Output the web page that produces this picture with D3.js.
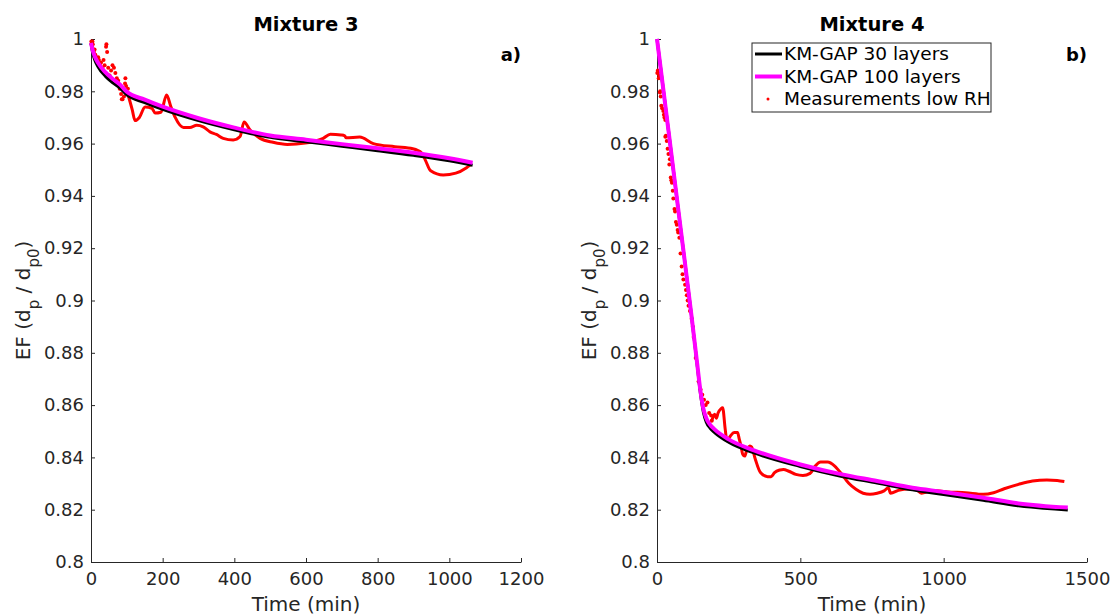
<!DOCTYPE html>
<meta charset="utf-8">
<style>
body { margin: 0; background: #fff; }
text { font-family: "DejaVu Sans", sans-serif; fill: #262626; }
.domain, .tick line { stroke: #262626; }
</style>
<svg width="1112" height="616"></svg>
<script src="https://d3js.org/d3.v7.min.js"></script>
<script>
// ---- panel a) Mixture 3 ----
var m3Time = [0, 5, 10, 20, 40, 60, 80, 100, 150, 200, 300, 400, 500, 600, 700, 800, 900, 1000, 1065];
var m3Km100 = [0.9985, 0.9955, 0.9935, 0.9908, 0.9873, 0.9848, 0.9827, 0.9798, 0.9768, 0.9741, 0.9697, 0.9661, 0.9631, 0.9615, 0.9598, 0.9582, 0.9565, 0.9544, 0.9527];
var m3Km30 = [0.9985, 0.9945, 0.9922, 0.9893, 0.9858, 0.9833, 0.9813, 0.9786, 0.9757, 0.9731, 0.9688, 0.9653, 0.9624, 0.9607, 0.9590, 0.9573, 0.9555, 0.9534, 0.9517];
var m3DotT = [1, 2, 3, 4, 5, 7, 8, 10, 12, 15, 18, 20, 22, 25, 28, 32, 35, 38, 42, 43, 45, 48, 52, 56, 60, 64, 68, 72, 76, 80, 84, 86, 88, 92, 95, 96, 98, 100, 103];
var m3DotV = [0.999, 0.998, 0.997, 0.999, 0.998, 0.996, 0.995, 0.996, 0.994, 0.993, 0.991, 0.993, 0.992, 0.990, 0.991, 0.989, 0.992, 0.990, 0.997, 0.998, 0.995, 0.989, 0.986, 0.988, 0.990, 0.989, 0.987, 0.985, 0.984, 0.981, 0.979, 0.977, 0.977, 0.978, 0.983, 0.985, 0.982, 0.979, 0.981];
var m3LineT = [104, 115, 123, 135, 151, 170, 179, 195, 211, 222, 235, 258, 276, 295, 313, 332, 350, 369, 397, 416, 427, 444, 472, 508, 548, 598, 648, 668, 698, 708, 712, 750, 788, 848, 898, 923, 933, 948, 983, 1018, 1048, 1058];
var m3LineV = [0.9784, 0.9730, 0.9688, 0.9700, 0.9740, 0.9735, 0.9717, 0.9720, 0.9786, 0.9745, 0.9700, 0.9662, 0.9662, 0.9670, 0.9664, 0.9645, 0.9635, 0.9620, 0.9614, 0.9627, 0.9683, 0.9652, 0.9620, 0.9605, 0.9597, 0.9602, 0.9620, 0.9636, 0.9633, 0.9630, 0.9622, 0.9625, 0.9600, 0.9588, 0.9580, 0.9564, 0.9537, 0.9496, 0.9480, 0.9487, 0.9508, 0.9518];

// ---- panel b) Mixture 4 ----
var m4Time = [0, 40, 80, 120, 140, 152, 162, 172, 185, 201, 250, 336, 500, 645, 768, 891, 1000, 1138, 1261, 1433];
var m4Km100 = [1.0, 0.9650, 0.9297, 0.8945, 0.8760, 0.8650, 0.8585, 0.8550, 0.8525, 0.8507, 0.8469, 0.8428, 0.8373, 0.8335, 0.8310, 0.8284, 0.8268, 0.8246, 0.8224, 0.8208];
var m4Km30 = [1.0, 0.9650, 0.9297, 0.8945, 0.8755, 0.8640, 0.8572, 0.8535, 0.8512, 0.8495, 0.8458, 0.8418, 0.8365, 0.8327, 0.8302, 0.8276, 0.8258, 0.8236, 0.8215, 0.8199];
var m4DotT = [1, 3, 5, 6, 8, 10, 11, 13, 15, 18, 22, 24, 26, 29, 29, 31, 34, 37, 40, 43, 45, 48, 50, 52, 55, 57, 61, 63, 66, 69, 72, 74, 78, 82, 86, 89, 92, 98, 101, 104, 107, 110, 115, 121, 125, 128, 135, 145, 152, 158, 164, 170, 176, 182, 189, 191];
var m4DotV = [0.987, 0.988, 0.9875, 0.985, 0.986, 0.9795, 0.980, 0.978, 0.9745, 0.9735, 0.9725, 0.971, 0.970, 0.969, 0.9626, 0.963, 0.961, 0.958, 0.956, 0.952, 0.954, 0.947, 0.946, 0.945, 0.942, 0.939, 0.935, 0.934, 0.930, 0.929, 0.927, 0.926, 0.924, 0.918, 0.913, 0.910, 0.908, 0.906, 0.904, 0.902, 0.900, 0.898, 0.896, 0.893, 0.890, 0.886, 0.878, 0.869, 0.866, 0.864, 0.862, 0.860, 0.861, 0.857, 0.856, 0.854];
var m4LineT = [191, 201, 207, 213, 223, 229, 238, 244, 256, 269, 281, 287, 293, 299, 306, 312, 324, 330, 343, 361, 386, 398, 410, 429, 441, 460, 484, 509, 534, 552, 571, 595, 620, 645, 669, 694, 719, 743, 768, 792, 807, 815, 842, 879, 903, 922, 940, 977, 1014, 1076, 1138, 1174, 1211, 1261, 1310, 1360, 1396, 1421];
var m4LineV = [0.854, 0.8565, 0.855, 0.857, 0.8586, 0.859, 0.8507, 0.8463, 0.8482, 0.8495, 0.8495, 0.847, 0.8444, 0.8412, 0.8405, 0.8424, 0.8444, 0.844, 0.8393, 0.8342, 0.8326, 0.8326, 0.8342, 0.8352, 0.8354, 0.8347, 0.8335, 0.8331, 0.8339, 0.8367, 0.8382, 0.8382, 0.8367, 0.8335, 0.8301, 0.8278, 0.8263, 0.8259, 0.8263, 0.8272, 0.8284, 0.8263, 0.8274, 0.828, 0.8278, 0.8263, 0.8268, 0.8272, 0.8268, 0.8265, 0.8259, 0.8265, 0.828, 0.8297, 0.831, 0.8314, 0.8312, 0.8308];

var yTicks = [0.8, 0.82, 0.84, 0.86, 0.88, 0.9, 0.92, 0.94, 0.96, 0.98, 1];
var legendLabels = ["KM-GAP 30 layers", "KM-GAP 100 layers", "Measurements low RH"];

var svg = d3.select("svg");
var plotTop = 39, plotBottom = 562;

function zip(a, b) { return a.map(function(d, i) { return [d, b[i]]; }); }

function panel(o) {
  var x = d3.scaleLinear().domain([0, o.xmax]).range([o.left, o.right]);
  var y = d3.scaleLinear().domain([0.8, 1]).range([plotBottom, plotTop]);
  var g = svg.append("g");

  g.append("g")
      .attr("transform", "translate(0," + plotBottom + ")")
      .call(d3.axisBottom(x).tickValues(o.xticks).tickSizeInner(-4).tickSizeOuter(0).tickPadding(10).tickFormat(d3.format("d")))
      .call(function(a) { a.selectAll("text").style("font-size", "18px").attr("fill", "#262626"); });

  g.append("g")
      .attr("transform", "translate(" + o.left + ",0)")
      .call(d3.axisLeft(y).tickValues(yTicks).tickSizeInner(-4).tickSizeOuter(0).tickPadding(7).tickFormat(function(d) { return String(+d.toFixed(2)); }))
      .call(function(a) { a.selectAll("text").style("font-size", "18px").attr("fill", "#262626"); });

  var line = d3.line().x(function(d) { return x(d[0]); }).y(function(d) { return y(d[1]); }).curve(d3.curveMonotoneX);

  g.append("g").selectAll("circle")
      .data(zip(o.dotT, o.dotV))
      .enter().append("circle")
      .attr("cx", function(d) { return x(d[0]); })
      .attr("cy", function(d) { return y(d[1]); })
      .attr("r", 2)
      .attr("fill", "red");

  g.append("path").datum(zip(o.lineT, o.lineV))
      .attr("d", line).attr("fill", "none").attr("stroke", "red").attr("stroke-width", 3);

  g.append("path").datum(zip(o.time, o.km30))
      .attr("d", line).attr("fill", "none").attr("stroke", "black").attr("stroke-width", 3);
  g.append("path").datum(zip(o.time, o.km100))
      .attr("d", line).attr("fill", "none").attr("stroke", "#ff00ff").attr("stroke-width", 4);

  var cx = (o.left + o.right) / 2;
  g.append("text").attr("x", cx).attr("y", 31).attr("text-anchor", "middle")
      .style("font-size", "19.5px").style("font-weight", "bold").style("fill", "#000").text(o.title);
  g.append("text").attr("x", o.right).attr("y", 61).attr("text-anchor", "end")
      .style("font-size", "18px").style("font-weight", "bold").style("fill", "#000").text(o.tag);
  g.append("text").attr("x", cx).attr("y", 611).attr("text-anchor", "middle")
      .style("font-size", "20px").text("Time (min)");

  var yl = g.append("text").attr("transform", "translate(" + (o.left - 61) + "," + ((plotTop + plotBottom) / 2) + ") rotate(-90)")
      .attr("text-anchor", "middle").style("font-size", "20px");
  yl.append("tspan").text("EF (d");
  yl.append("tspan").attr("baseline-shift", "sub").style("font-size", "15px").text("p");
  yl.append("tspan").text(" / d");
  yl.append("tspan").attr("baseline-shift", "sub").style("font-size", "15px").text("p0");
  yl.append("tspan").text(")");
}

panel({ left: 91, right: 521, xmax: 1200, xticks: [0, 200, 400, 600, 800, 1000, 1200],
  time: m3Time, km100: m3Km100, km30: m3Km30, dotT: m3DotT, dotV: m3DotV, lineT: m3LineT, lineV: m3LineV,
  title: "Mixture 3", tag: "a)" });
panel({ left: 657, right: 1087, xmax: 1500, xticks: [0, 500, 1000, 1500],
  time: m4Time, km100: m4Km100, km30: m4Km30, dotT: m4DotT, dotV: m4DotV, lineT: m4LineT, lineV: m4LineV,
  title: "Mixture 4", tag: "b)" });

// legend
var lg = svg.append("g").attr("transform", "translate(752,43)");
lg.append("rect").attr("width", 239).attr("height", 69).attr("fill", "#fff").attr("stroke", "#262626").attr("stroke-width", 1);
var rows = lg.selectAll("g.row").data(legendLabels).enter().append("g")
    .attr("transform", function(d, i) { return "translate(0," + (11 + i * 22.5) + ")"; });
rows.filter(function(d, i) { return i < 2; }).append("line")
    .attr("x1", 3).attr("x2", 30)
    .attr("stroke", function(d, i) { return i === 0 ? "black" : "#ff00ff"; })
    .attr("stroke-width", function(d, i) { return i === 0 ? 3 : 4; });
rows.filter(function(d, i) { return i === 2; }).append("circle").attr("cx", 16).attr("r", 1.5).attr("fill", "red");
rows.append("text").attr("x", 32).attr("dy", "0.35em").style("font-size", "18.5px").style("fill", "#000").text(function(d) { return d; });
</script>
